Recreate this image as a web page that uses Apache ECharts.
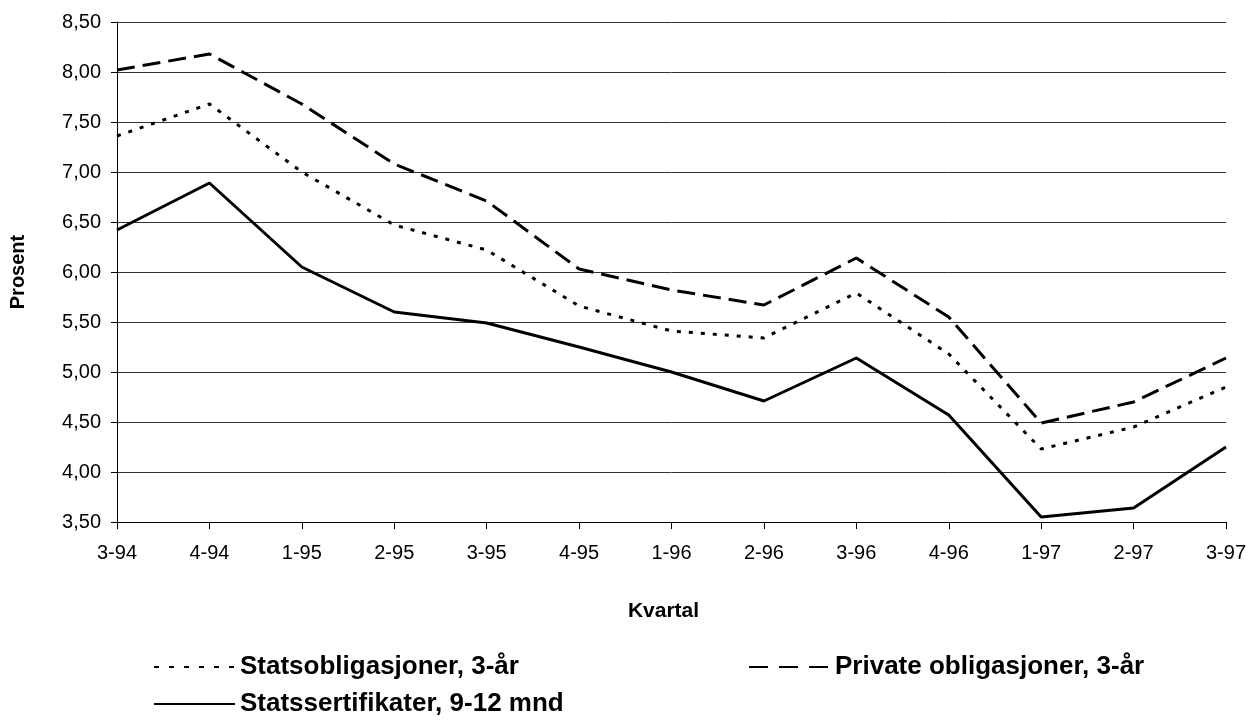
<!DOCTYPE html>
<html>
<head>
<meta charset="utf-8">
<script src="https://cdn.jsdelivr.net/npm/echarts@6/dist/echarts.min.js"></script>
<style>
html,body{margin:0;padding:0;background:#fff;}
#c{width:1258px;height:722px;}
</style>
</head>
<body>
<div id="c"></div>
<script>
var categories = ['3-94','4-94','1-95','2-95','3-95','4-95','1-96','2-96','3-96','4-96','1-97','2-97','3-97'];
var statsobligasjoner = [7.36,7.68,7.00,6.47,6.22,5.66,5.41,5.34,5.79,5.18,4.23,4.45,4.85];
var private3 = [8.02,8.18,7.68,7.08,6.71,6.03,5.82,5.67,6.14,5.55,4.49,4.70,5.14];
var statssertifikater = [6.42,6.89,6.05,5.60,5.49,5.25,5.00,4.71,5.14,4.57,3.55,3.64,4.25];
var names = ['Statsobligasjoner, 3-år','Private obligasjoner, 3-år','Statssertifikater, 9-12 mnd'];

var chart = echarts.init(document.getElementById('c'));
var F = 'Liberation Sans, Arial, sans-serif';
var legendFont = {fontFamily:F, fontWeight:'bold', fontSize:26, color:'#000'};
var hiddenItem = {color:'rgba(0,0,0,0)', borderWidth:0};
chart.setOption({
  animation:false,
  backgroundColor:'#fff',
  grid:{left:113,right:32,top:22,bottom:200},
  legend:[
    {data:[names[0]],left:148,top:649,itemWidth:81,itemHeight:14,itemGap:4,textStyle:legendFont,selectedMode:false,
     lineStyle:{type:[5,10]}},
    {data:[names[1]],left:743,top:649,itemWidth:81,itemHeight:14,itemGap:4,textStyle:legendFont,selectedMode:false,
     lineStyle:{type:[19,11]}},
    {data:[names[2]],left:148,top:686,itemWidth:81,itemHeight:14,itemGap:4,textStyle:legendFont,selectedMode:false}
  ],
  xAxis:{
    type:'category',data:categories,boundaryGap:false,
    name:'Kvartal',nameLocation:'middle',nameGap:79,
    nameTextStyle:{fontFamily:F,fontWeight:'bold',fontSize:21,color:'#000',padding:[0,16,0,0]},
    axisLine:{lineStyle:{color:'#000',width:1}},
    axisTick:{show:true,length:7,lineStyle:{color:'#000'}},
    axisLabel:{fontFamily:F,fontSize:20,color:'#000',margin:21},
    splitLine:{show:false}
  },
  yAxis:{
    type:'value',min:3.5,max:8.5,interval:0.5,
    name:'Prosent',nameLocation:'middle',nameGap:89,nameRotate:90,
    nameTextStyle:{fontFamily:F,fontWeight:'bold',fontSize:20,color:'#000'},
    axisLine:{show:true,lineStyle:{color:'#000',width:1}},
    axisTick:{show:true,length:6,lineStyle:{color:'#000'}},
    axisLabel:{fontFamily:F,fontSize:20,color:'#000',margin:16,
      formatter:function(v){return v.toFixed(2).replace('.',',');}},
    splitLine:{show:true,lineStyle:{color:'#333',width:1}}
  },
  series:[
    {name:names[0],type:'line',data:statsobligasjoner,symbol:'circle',showSymbol:false,
     lineStyle:{color:'#000',width:3,type:[4,8]},itemStyle:hiddenItem},
    {name:names[1],type:'line',data:private3,symbol:'circle',showSymbol:false,
     lineStyle:{color:'#000',width:3,type:[18,8]},itemStyle:hiddenItem},
    {name:names[2],type:'line',data:statssertifikater,symbol:'circle',showSymbol:false,
     lineStyle:{color:'#000',width:3,type:'solid'},itemStyle:hiddenItem}
  ]
});
</script>
</body>
</html>
